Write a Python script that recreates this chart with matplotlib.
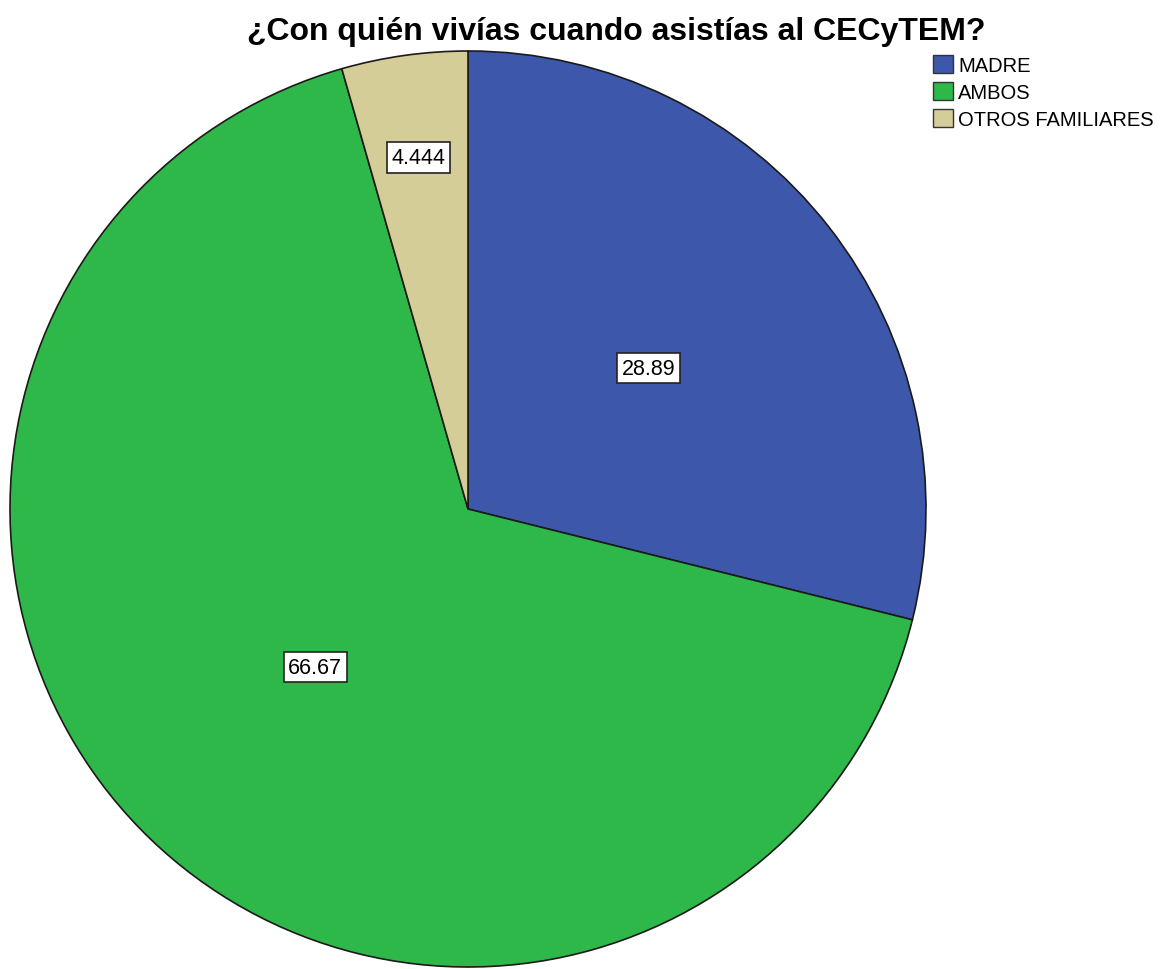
import numpy as np
import matplotlib
matplotlib.use("Agg")
import matplotlib.pyplot as plt
from matplotlib.patches import Patch

# data
categories = ["MADRE", "AMBOS", "OTROS FAMILIARES"]
values = [28.89, 66.67, 4.444]
value_labels = ["28.89", "66.67", "4.444"]
colors = ["#3D57AB", "#2EB84A", "#D5CD97"]
label_frac = [0.5, 0.48, 0.775]

title = "¿Con quién vivías cuando asistías al CECyTEM?"

plt.rcParams["font.family"] = ["Liberation Sans", "DejaVu Sans"]

W, H = 1162, 970
fig = plt.figure(figsize=(W / 100, H / 100), dpi=100)
ax = fig.add_axes([0, 0, 1, 1])

# pixel-like coordinates, y grows downward
cx, cy, R = 468, 510, 458
# with the y axis flipped, start at -90 and go counterclockwise in data
# so the pie reads clockwise from 12 o'clock on screen
wedges, _ = ax.pie(values, colors=colors, startangle=-90, counterclock=True,
                   center=(cx, cy), radius=R, frame=True,
                   wedgeprops=dict(edgecolor="#1a1a1a", linewidth=1.2))
ax.set_xlim(0, W)
ax.set_ylim(H, 0)
ax.set_aspect("equal")
ax.axis("off")

total = sum(values)
start = 90.0
for v, lab, f in zip(values, value_labels, label_frac):
    sweep = 360.0 * v / total
    mid = np.deg2rad(start - sweep / 2)
    tx = cx + f * R * np.cos(mid)
    ty = cy - f * R * np.sin(mid)
    ax.text(tx, ty, lab, ha="center", va="center", fontsize=15.5,
            bbox=dict(boxstyle="square,pad=0.22", fc="white", ec="#222222", lw=1.2))
    start -= sweep

fig.text(0.530, 1 - 40 / H, title, ha="center", va="baseline",
         fontsize=23, fontweight="bold")

handles = [Patch(facecolor=c, edgecolor="#333333", label=n) for c, n in zip(colors, categories)]
fig.legend(handles=handles, loc="upper left", bbox_to_anchor=(933 / W, 1 - 56 / H),
           frameon=False, fontsize=14.5, handlelength=1.0, handleheight=1.0,
           handletextpad=0.25, labelspacing=0.35, borderpad=0.0, borderaxespad=0.0)

fig.savefig("out.png", dpi=100)
